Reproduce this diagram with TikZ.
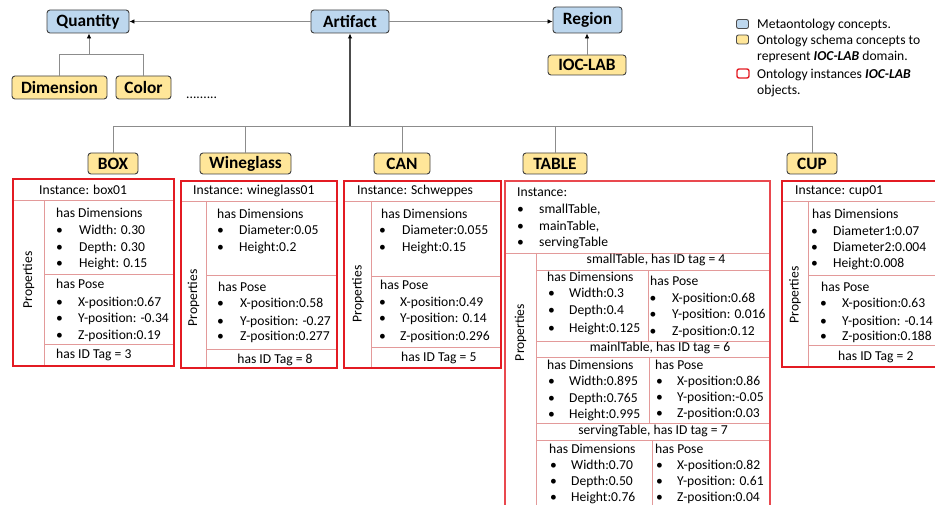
\documentclass[tikz,border=0pt]{standalone}
\usepackage{fontspec}
\setmainfont{Carlito}
\usetikzlibrary{arrows.meta}

\definecolor{metablue}{HTML}{BDD7EE}
\definecolor{schemayellow}{HTML}{FFE699}
\definecolor{instred}{HTML}{E31B23}
\definecolor{gridred}{HTML}{E39A9A}
\definecolor{linkgray}{HTML}{8C8C8C}

\newcommand\bodyfont{\fontsize{13.6}{16.5}\selectfont}
\newcommand\labelfont{\fontsize{17.3}{20}\selectfont\bfseries}

% a bulleted line: name, bullet x, text x, baseline y, text
\newcommand\entry[5]{%
  \node[txt] (#1-dot) at (#2,#4) {\textbullet};
  \node[txt] (#1) at (#3,#4) {#5};}

\tikzset{
  concept/.style={draw=black!75, line width=0.9pt, rounded corners=3pt,
    inner sep=0pt, font=\labelfont, text=black},
  meta/.style={concept, fill=metablue},
  schema/.style={concept, fill=schemayellow},
  txt/.style={anchor=base west, inner sep=0pt, font=\bodyfont},
  ctxt/.style={anchor=base, inner sep=0pt, font=\bodyfont},
  vlabel/.style={inner sep=0pt, font=\bodyfont, rotate=90},
  frame/.style={draw=instred, line width=1.1pt},
  grid/.style={draw=gridred, line width=0.8pt},
  link/.style={draw=linkgray, line width=0.8pt},
  isa/.style={link, -{Latex[length=5pt,width=4.5pt,color=black]}},
}

\begin{document}
\begin{tikzpicture}[x=1pt,y=-1pt]
\useasboundingbox (0,0) rectangle (935,505);
\clip (0,0) rectangle (935,505);

% ---------- concept hierarchy ----------
\node[meta, minimum width=82pt, minimum height=23pt] (quantity) at (88,21.5) {Quantity};
\node[meta, minimum width=78pt, minimum height=23pt] (artifact) at (350,21.5) {Artifact};
\node[meta, minimum width=69pt, minimum height=26pt] (region) at (587.5,20) {Region};
\node[schema, minimum width=78pt, minimum height=20pt] (ioclab) at (587,65) {IOC-LAB};
\node[schema, minimum width=95pt, minimum height=23pt] (dimension) at (59.5,87.5) {Dimension};
\node[schema, minimum width=55pt, minimum height=23pt] (color) at (143.5,87.5) {Color};
\node[txt] (more) at (186,99) {.........};

\draw[isa] (artifact.west) -- (quantity.east);
\draw[isa] (artifact.east) -- (artifact.east -| region.west);
\draw[isa] (ioclab.north) -- (ioclab.north |- region.south);
\coordinate (qjoin) at (89,54);
\draw[link] (dimension.north) |- (color.north |- qjoin) -- (color.north);
\draw[isa] (qjoin) -- (qjoin |- quantity.south);

% ---------- object classes ----------
\node[schema, minimum width=50pt, minimum height=21pt] (box) at (113,163.5) {BOX};
\node[schema, minimum width=91pt, minimum height=21pt] (wineglass) at (245.5,163.5) {Wineglass};
\node[schema, minimum width=56pt, minimum height=21pt] (can) at (402,163.5) {CAN};
\node[schema, minimum width=64pt, minimum height=21pt] (table) at (555,163.5) {TABLE};
\node[schema, minimum width=50pt, minimum height=21pt] (cup) at (812,163.5) {CUP};

\coordinate (bus) at (350,126);
\draw[link] (box.north) |- (cup.north |- bus) -- (cup.north);
\draw[link] (wineglass.north) -- (wineglass.north |- bus);
\draw[link] (can.north) -- (can.north |- bus);
\draw[link] (table.north) -- (table.north |- bus);
\draw[isa, draw=black!70, line width=1.3pt] (bus) -- (artifact.south);

% ---------- legend ----------
\node[draw=black!70, fill=metablue, rounded corners=2pt, line width=0.9pt,
  minimum width=12pt, minimum height=9pt, inner sep=0pt] (key-meta) at (742.5,24) {};
\node[txt] (key-meta-t) at (757,28.5) {Metaontology concepts.};
\node[draw=black!70, fill=schemayellow, rounded corners=2pt, line width=0.9pt,
  minimum width=12pt, minimum height=9pt, inner sep=0pt] (key-schema) at (742.5,39.5) {};
\node[txt] (key-schema-t1) at (757,44.5) {Ontology schema concepts to};
\node[txt] (key-schema-t2) at (757,61) {represent \textbf{\textit{IOC-LAB}} domain.};
\node[draw=instred, rounded corners=2pt, line width=1.4pt,
  minimum width=12pt, minimum height=9pt, inner sep=0pt] (key-inst) at (743,73.5) {};
\node[txt] (key-inst-t1) at (757,79) {Ontology instances \textbf{\textit{IOC-LAB}}};
\node[txt] (key-inst-t2) at (757,95) {objects.};

% ---------- BOX instance ----------
\draw[grid] (13,200) -- (174,200) (44,200) -- (44,366)
  (44,274) -- (174,274) (44,344) -- (174,344);
\draw[frame] (13,179) rectangle (174,366);
\node[txt] (box-inst) at (39,195) {Instance: box01};
\node[vlabel] (box-prop) at (28.5,280) {Properties};
\node[txt] (box-dim) at (56,218) {has Dimensions};
\entry{box-w}{56}{79}{235}{Width: 0.30}
\entry{box-d}{56}{79}{252}{Depth: 0.30}
\entry{box-h}{56}{79}{268}{Height: 0.15}
\node[txt] (box-pose) at (56,289) {has Pose};
\entry{box-x}{56}{78}{306}{X-position:0.67}
\entry{box-y}{56}{78}{323}{Y-position: -0.34}
\entry{box-z}{56}{78}{339}{Z-position:0.19}
\node[txt] (box-id) at (56,358) {has ID Tag = 3};

% ---------- Wineglass instance ----------
\draw[grid] (181,201) -- (337,201) (206,201) -- (206,368)
  (206,275) -- (337,275) (206,349) -- (337,349);
\draw[frame] (181,181) rectangle (337,368);
\node[txt] (wg-inst) at (193,195) {Instance: wineglass01};
\node[vlabel] (wg-prop) at (193.5,298) {Properties};
\node[txt] (wg-dim) at (217,219) {has Dimensions};
\entry{wg-dia}{217}{239}{235}{Diameter:0.05}
\entry{wg-h}{217}{239}{252}{Height:0.2}
\node[txt] (wg-pose) at (218,292) {has Pose};
\entry{wg-x}{217}{240}{308}{X-position:0.58}
\entry{wg-y}{217}{240}{325}{Y-position: -0.27}
\entry{wg-z}{217}{240}{341}{Z-position:0.277}
\node[ctxt] (wg-id) at (275,363) {has ID Tag = 8};

% ---------- CAN instance ----------
\draw[grid] (344,201) -- (501,201) (371,201) -- (371,368)
  (371,276) -- (501,276) (371,347) -- (501,347);
\draw[frame] (344,181) rectangle (501,368);
\node[txt] (can-inst) at (357,195) {Instance: Schweppes};
\node[vlabel] (can-prop) at (358,294) {Properties};
\node[txt] (can-dim) at (381,219) {has Dimensions};
\entry{can-dia}{379}{402}{235}{Diameter:0.055}
\entry{can-h}{379}{402}{252}{Height:0.15}
\node[txt] (can-pose) at (380,290) {has Pose};
\entry{can-x}{379}{400}{307}{X-position:0.49}
\entry{can-y}{379}{400}{323}{Y-position: 0.14}
\entry{can-z}{379}{400}{340}{Z-position:0.296}
\node[txt] (can-id) at (401,361) {has ID Tag = 5};

% ---------- TABLE instances ----------
\draw[grid] (505,253) -- (770,253) (536,253) -- (536,510)
  (536,270) -- (770,270) (648,270) -- (648,341)
  (536,341) -- (770,341) (536,357.5) -- (770,357.5) (649,357.5) -- (649,423)
  (536,423) -- (770,423) (536,440) -- (770,440) (652,440) -- (652,510);
\draw[frame, draw=instred!80] (505,510) -- (505,181) -- (770,181) -- (770,510);
\node[txt] (tab-inst) at (517,197) {Instance:};
\entry{tab-i1}{517}{539}{214}{smallTable,}
\entry{tab-i2}{517}{539}{231}{mainTable,}
\entry{tab-i3}{517}{539}{247}{servingTable}
\node[vlabel] (tab-prop) at (520.5,332.5) {Properties};

\node[ctxt] (st-head) at (656,264) {smallTable, has ID tag = 4};
\node[txt] (st-dim) at (547,282) {has Dimensions};
\entry{st-w}{548}{569}{298}{Width:0.3}
\entry{st-d}{548}{569}{315}{Depth:0.4}
\entry{st-h}{548}{569}{332}{Height:0.125}
\node[txt] (st-pose) at (650,286) {has Pose};
\entry{st-x}{649.5}{672}{302}{X-position:0.68}
\entry{st-y}{649.5}{672}{319}{Y-position: 0.016}
\entry{st-z}{649.5}{672}{335}{Z-position:0.12}

\node[ctxt] (mt-head) at (660,352) {mainlTable, has ID tag = 6};
\node[txt] (mt-dim) at (547,369) {has Dimensions};
\entry{mt-w}{548}{569}{385}{Width:0.895}
\entry{mt-d}{548}{569}{402}{Depth:0.765}
\entry{mt-h}{548}{569}{418}{Height:0.995}
\node[txt] (mt-pose) at (655,369) {has Pose};
\entry{mt-x}{656}{677}{385}{X-position:0.86}
\entry{mt-y}{656}{677}{401}{Y-position:-0.05}
\entry{mt-z}{656}{677}{417}{Z-position:0.03}

\node[ctxt] (sv-head) at (653,434) {servingTable, has ID tag = 7};
\node[txt] (sv-dim) at (549,453) {has Dimensions};
\entry{sv-w}{550}{571}{469}{Width:0.70}
\entry{sv-d}{550}{571}{485}{Depth:0.50}
\entry{sv-h}{550}{571}{501}{Height:0.76}
\node[txt] (sv-pose) at (655,453) {has Pose};
\entry{sv-x}{656}{677}{469}{X-position:0.82}
\entry{sv-y}{656}{677}{485}{Y-position: 0.61}
\entry{sv-z}{656}{677}{501}{Z-position:0.04}

% ---------- CUP instance ----------
\draw[grid] (782,201) -- (945,201) (808,201) -- (808,367)
  (808,275) -- (945,275) (808,345) -- (945,345);
\draw[frame] (782,181) rectangle (945,367);
\node[txt] (cup-inst) at (795,195) {Instance: cup01};
\node[vlabel] (cup-prop) at (795,295) {Properties};
\node[txt] (cup-dim) at (812,219) {has Dimensions};
\entry{cup-d1}{811}{833}{236}{Diameter1:0.07}
\entry{cup-d2}{811}{833}{252}{Diameter2:0.004}
\entry{cup-h}{811}{833}{268}{Height:0.008}
\node[txt] (cup-pose) at (821,292) {has Pose};
\entry{cup-x}{820}{842}{308}{X-position:0.63}
\entry{cup-y}{820}{842}{325}{Y-position: -0.14}
\entry{cup-z}{820}{842}{341}{Z-position:0.188}
\node[txt] (cup-id) at (838,360) {has ID Tag = 2};
\end{tikzpicture}
\end{document}
